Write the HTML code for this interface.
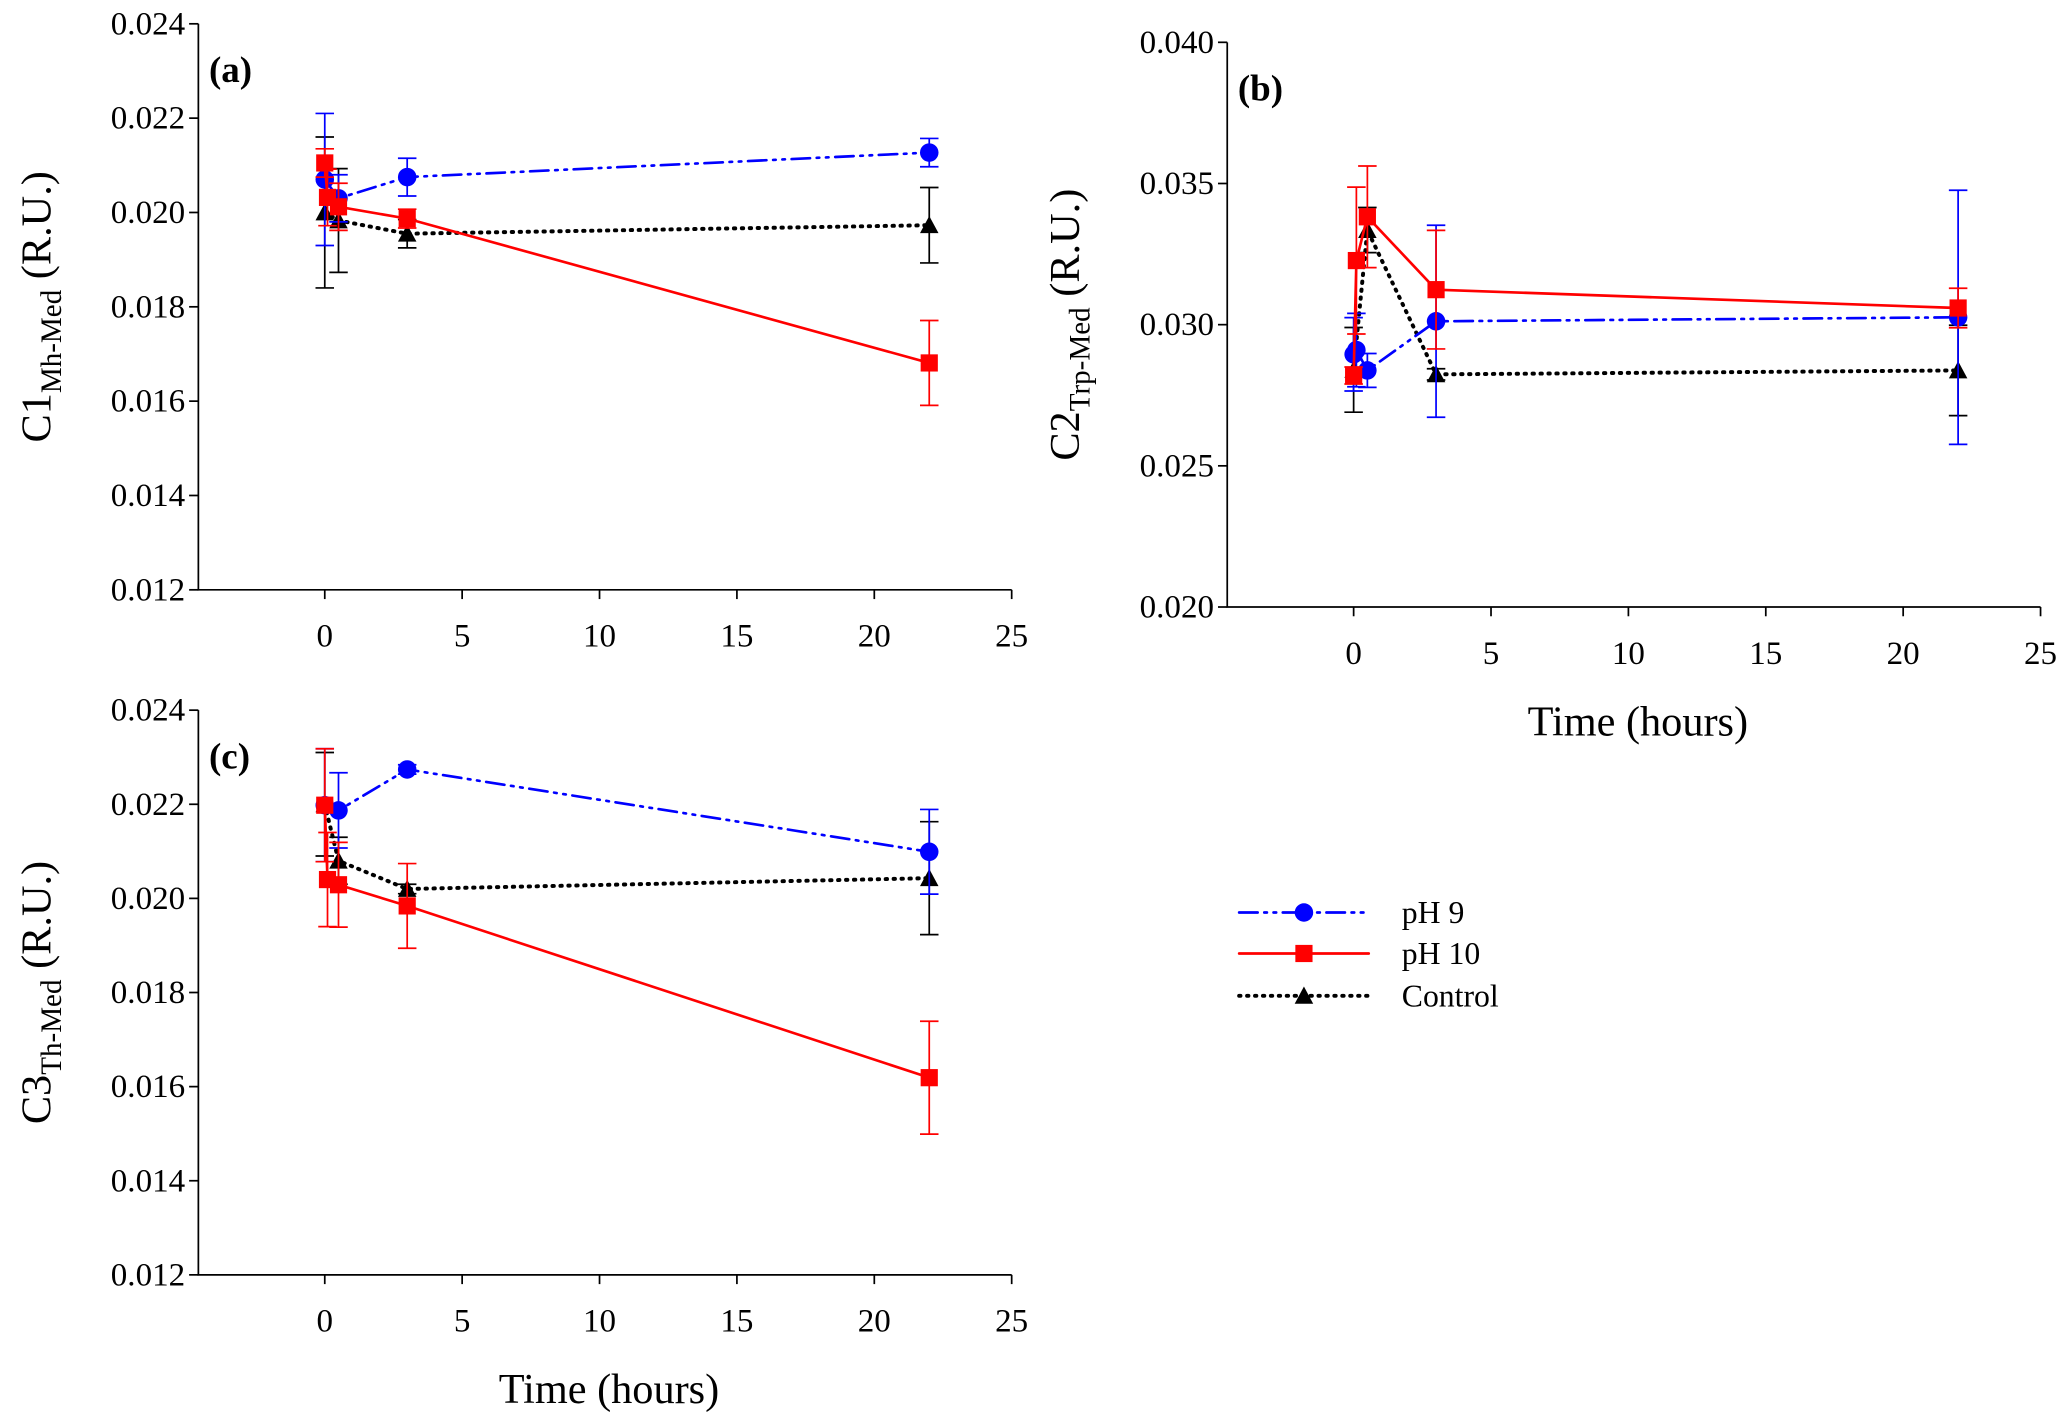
<!DOCTYPE html>
<html><head><meta charset="utf-8"><style>
html,body{margin:0;padding:0;background:#fff}
svg{display:block;font-family:"Liberation Serif",serif}
</style></head><body>
<svg id="chart" width="2067" height="1419" viewBox="0 0 1563 1073" xmlns="http://www.w3.org/2000/svg"></svg>
<script>
// Panel (a)
const aTimesBlue=[0,0.5,3,22];
const aBlue=[0.0207,0.0203,0.02075,0.02127];
const aBlueErr=[0.0014,0.0005,0.0004,0.0003];
const aTimesRed=[0,0.1,0.5,3,22];
const aRed=[0.02105,0.02032,0.02012,0.01987,0.01681];
const aRedErr=[0.0003,0.0006,0.0005,0.0002,0.0009];
const aTimesCtl=[0,0.5,3,22];
const aCtl=[0.0200,0.01983,0.01955,0.01973];
const aCtlErr=[0.0016,0.0011,0.0003,0.0008];
// Panel (b)
const bTimesBlue=[0,0.1,0.5,3,22];
const bBlue=[0.02895,0.0291,0.02838,0.03012,0.03026];
const bBlueErr=[0.0013,0.0013,0.0006,0.0034,0.0045];
const bTimesRed=[0,0.1,0.5,3,22];
const bRed=[0.0282,0.03227,0.03382,0.03124,0.03059];
const bRedErr=[0.0003,0.0026,0.0018,0.0021,0.0007];
const bTimesCtl=[0,0.5,3,22];
const bCtl=[0.0284,0.03335,0.02824,0.02838];
const bCtlErr=[0.0015,0.0008,0.0002,0.0016];
// Panel (c)
const cTimesBlue=[0,0.5,3,22];
const cBlue=[0.02198,0.02187,0.02274,0.02099];
const cBlueErr=[0.0012,0.0008,0.0001,0.0009];
const cTimesRed=[0,0.1,0.5,3,22];
const cRed=[0.02198,0.0204,0.02029,0.01984,0.01619];
const cRedErr=[0.0012,0.0010,0.0009,0.0009,0.0012];
const cTimesCtl=[0,0.5,3,22];
const cCtl=[0.0220,0.0208,0.0202,0.02043];
const cCtlErr=[0.0011,0.0005,0.0001,0.0012];
const xTicks=[0,5,10,15,20,25];
const yTicksAC=[0.012,0.014,0.016,0.018,0.020,0.022,0.024];
const yTicksB=[0.020,0.025,0.030,0.035,0.040];

const NS="http://www.w3.org/2000/svg";
const svg=document.getElementById('chart');
function mk(tag,attrs,parent){const e=document.createElementNS(NS,tag);for(const k in attrs)e.setAttribute(k,attrs[k]);(parent||svg).appendChild(e);return e;}

function panel(p){
  const g=mk('g',{});
  
  
  const X=t=>p.x0+(t-p.xmin)/(25-p.xmin)*(p.x1-p.x0);
  const Y=v=>p.y1-(v-p.ymin)/(p.ymax-p.ymin)*(p.y1-p.y0);
  const ax=mk('path',{d:`M${p.x0},${p.y0}V${p.y1}H${p.x1}`,fill:'none',stroke:'#000','stroke-width':1.3},g);
  
  
  xTicks.forEach(t=>{
    mk('line',{x1:X(t),x2:X(t),y1:p.y1,y2:p.y1+7,stroke:'#000','stroke-width':1.3},g);
    const tx=mk('text',{x:X(t),y:p.y1+43,'text-anchor':'middle','font-size':25},g);
    tx.textContent=t;
    
    
  });
  p.yt.forEach(v=>{
    mk('line',{x1:p.x0-7,x2:p.x0,y1:Y(v),y2:Y(v),stroke:'#000','stroke-width':1.3},g);
    const tx=mk('text',{x:p.x0-10,y:Y(v)+8,'text-anchor':'end','font-size':25},g);
    tx.textContent=v.toFixed(3);
    
    
  });
  const lab=mk('text',{x:p.x0+8,y:p.y0+44,'font-size':28,'font-weight':'bold'},g);
  lab.textContent='('+p.id+')';
  
  
  const yt=mk('text',{transform:`translate(${p.x0-112},${(p.y0+p.y1)/2}) rotate(-90)`,'text-anchor':'middle','font-size':32},g);
  yt.innerHTML=p.ylab[0]+'<tspan font-size="22" dy="8">'+p.ylab[1]+'</tspan><tspan dy="-8"> (R.U.)</tspan>';
  
  
  if(p.xtitle){
    const xt=mk('text',{x:(p.x0+p.x1)/2+3,y:p.y1+97,'text-anchor':'middle','font-size':32},g);
    xt.textContent='Time (hours)';
    
    
  }
  p.series.forEach(s=>{
    const sg=mk('g',{},g);
    
    
    s.t.forEach((t,i)=>{
      const x=X(t),yt=Y(s.v[i]+s.e[i]),yb=Y(s.v[i]-s.e[i]);
      mk('path',{d:`M${x},${yt}V${yb}M${x-7},${yt}H${x+7}M${x-7},${yb}H${x+7}`,stroke:s.c,'stroke-width':1.3,fill:'none'},sg);
    });
    const d=s.t.map((t,i)=>(i?'L':'M')+X(t)+','+Y(s.v[i])).join('');
    mk('path',{d,fill:'none',stroke:s.c,'stroke-width':s.dash==='1,5'?3:2,'stroke-dasharray':s.dash,'stroke-linecap':'round'},sg);
    s.t.forEach((t,i)=>{
      const x=X(t),y=Y(s.v[i]);let m;
      if(s.m==='c')m=mk('circle',{cx:x,cy:y,r:7,fill:s.c},sg);
      else if(s.m==='s')m=mk('rect',{x:x-6.5,y:y-6.5,width:13,height:13,fill:s.c},sg);
      else m=mk('path',{d:`M${x},${y-7}L${x+7},${y+6}L${x-7},${y+6}Z`,fill:s.c},sg);
      
      
    });
  });
}
const SB={name:'ph9',c:'#0000ff',m:'c',dash:'14,5,2,5,2,5'};
const SR={name:'ph10',c:'#ff0000',m:'s',dash:''};
const SC={name:'control',c:'#000',m:'t',dash:'1,5'};
panel({id:'a',x0:150,x1:765,y0:18,y1:446,xmin:-4.6,ymin:0.012,ymax:0.024,yt:yTicksAC,ylab:['C1','Mh-Med'],
  series:[Object.assign({t:aTimesCtl,v:aCtl,e:aCtlErr},SC),Object.assign({t:aTimesBlue,v:aBlue,e:aBlueErr},SB),Object.assign({t:aTimesRed,v:aRed,e:aRedErr},SR)]});
panel({id:'b',x0:928,x1:1543,y0:32,y1:459,xmin:-4.6,ymin:0.020,ymax:0.040,yt:yTicksB,ylab:['C2','Trp-Med'],xtitle:true,
  series:[Object.assign({t:bTimesCtl,v:bCtl,e:bCtlErr},SC),Object.assign({t:bTimesBlue,v:bBlue,e:bBlueErr},SB),Object.assign({t:bTimesRed,v:bRed,e:bRedErr},SR)]});
panel({id:'c',x0:150,x1:765,y0:537,y1:964,xmin:-4.6,ymin:0.012,ymax:0.024,yt:yTicksAC,ylab:['C3','Th-Med'],xtitle:true,
  series:[Object.assign({t:cTimesCtl,v:cCtl,e:cCtlErr},SC),Object.assign({t:cTimesBlue,v:cBlue,e:cBlueErr},SB),Object.assign({t:cTimesRed,v:cRed,e:cRedErr},SR)]});
// legend
const lg=mk('g',{});


[[SB,'pH 9',690],[SR,'pH 10',721],[SC,'Control',753]].forEach(([s,l,y])=>{
  const e=mk('g',{},lg);
  
  
  mk('line',{x1:937,x2:1035,y1:y,y2:y,stroke:s.c,'stroke-width':s.dash==='1,5'?3:2,'stroke-dasharray':s.dash,'stroke-linecap':'round'},e);
  const x=986;
  if(s.m==='c')mk('circle',{cx:x,cy:y,r:7,fill:s.c},e);
  else if(s.m==='s')mk('rect',{x:x-6.5,y:y-6.5,width:13,height:13,fill:s.c},e);
  else mk('path',{d:`M${x},${y-7}L${x+7},${y+6}L${x-7},${y+6}Z`,fill:s.c},e);
  const t=mk('text',{x:1060,y:y+8,'font-size':24},e);t.textContent=l;
});
</script>
</body></html>
